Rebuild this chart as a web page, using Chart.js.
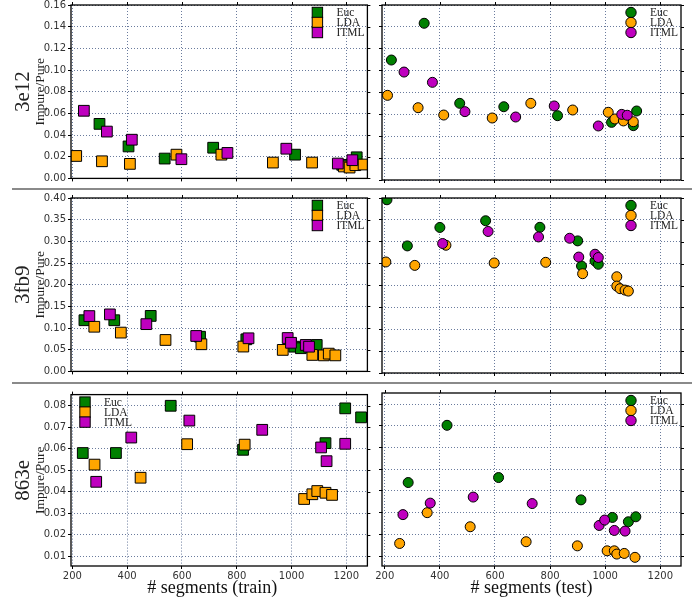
<!DOCTYPE html>
<html>
<head>
<meta charset="utf-8">
<script src="https://cdn.jsdelivr.net/npm/chart.js@4/dist/chart.umd.min.js"></script>
<style>
  html, body { margin: 0; padding: 0; background: #fff; }
  #fig { position: relative; width: 692px; height: 603px; overflow: hidden; background: #fff; }
  #fig canvas { position: absolute; }
  .sep { position: absolute; left: 12px; width: 680px; height: 2px; background: #8a8a8a; }
</style>
</head>
<body>
<div id="fig">
  <div class="sep" style="top:188px"></div>
  <div class="sep" style="top:382px"></div>
</div>
<script>
// ---- series and ticks -------------------------------------------------
const seriesNames  = ['Euc', 'LDA', 'ITML'];
const seriesColors = ['#008000', '#ffa500', '#bf00bf'];
const rowNames     = ['3e12', '3fb9', '863e'];

const xTicks      = [200, 400, 600, 800, 1000, 1200];
const yTicks3e12  = [0, 0.02, 0.04, 0.06, 0.08, 0.10, 0.12, 0.14, 0.16];
const yTicks3fb9  = [0, 0.05, 0.10, 0.15, 0.20, 0.25, 0.30, 0.35, 0.40];
const yTicks863e  = [0.01, 0.02, 0.03, 0.04, 0.05, 0.06, 0.07, 0.08];

// 3e12 – train
const e12TrainEuc  = [[299,0.0503],[405,0.0295],[537,0.0183],[714,0.0283],[1013,0.0219],[1185,0.0125],[1238,0.0195]];
const e12TrainLda  = [[214,0.0207],[308,0.0158],[410,0.0134],[580,0.0219],[744,0.0219],[932,0.0146],[1075,0.0146],[1191,0.0110],[1212,0.0100],[1233,0.0122],[1263,0.0128]];
const e12TrainItml = [[242,0.0624],[326,0.0432],[417,0.0357],[598,0.0177],[766,0.0235],[981,0.0274],[1169,0.0137],[1222,0.0168]];
// 3e12 – test
const e12TestEuc   = [[224,0.1097],[343,0.1433],[472,0.0701],[632,0.0670],[827,0.0588],[1023,0.0527],[1102,0.0497],[1114,0.0631]];
const e12TestLda   = [[210,0.0774],[321,0.0661],[414,0.0594],[590,0.0567],[730,0.0701],[882,0.0640],[1011,0.0619],[1035,0.0558],[1066,0.0540],[1102,0.0533]];
const e12TestItml  = [[270,0.0987],[373,0.0893],[491,0.0625],[675,0.0576],[815,0.0677],[975,0.0494],[1060,0.0600],[1080,0.0592]];

// 3fb9 – train
const fb9TrainEuc  = [[244,0.118],[353,0.118],[486,0.128],[666,0.080],[835,0.074],[998,0.065],[1010,0.057],[1034,0.0535],[1092,0.061]];
const fb9TrainLda  = [[280,0.103],[377,0.0895],[540,0.0725],[671,0.0626],[824,0.0573],[968,0.0496],[1076,0.038],[1118,0.037],[1136,0.041],[1160,0.037]];
const fb9TrainItml = [[262,0.1276],[337,0.1315],[470,0.109],[652,0.0817],[843,0.0764],[986,0.077],[998,0.066],[1052,0.061],[1064,0.057]];
// 3fb9 – test
const fb9TestEuc   = [[208,0.396],[282,0.2905],[400,0.3327],[566,0.348],[763,0.333],[900,0.302],[914,0.2446],[963,0.256],[975,0.2485]];
const fb9TestLda   = [[204,0.2538],[309,0.246],[422,0.292],[597,0.2515],[784,0.253],[918,0.227],[1042,0.220],[1042,0.1987],[1054,0.1927],[1072,0.1895],[1084,0.1872]];
const fb9TestItml  = [[410,0.296],[575,0.3235],[758,0.311],[871,0.308],[904,0.265],[963,0.2715],[975,0.264]];

// 863e – train
const e863TrainEuc  = [[238,0.058],[359,0.058],[559,0.080],[823,0.0595],[1124,0.0626],[1196,0.0788],[1254,0.0746]];
const e863TrainLda  = [[281,0.0526],[449,0.0465],[619,0.0621],[829,0.0619],[1046,0.0366],[1076,0.0388],[1094,0.0403],[1124,0.0395],[1148,0.0385]];
const e863TrainItml = [[287,0.0446],[415,0.0652],[627,0.0731],[893,0.0688],[1108,0.0606],[1128,0.0542],[1196,0.0623]];
// 863e – test
const e863TestEuc   = [[285,0.0439],[426,0.0703],[613,0.0462],[912,0.0359],[1026,0.0278],[1084,0.0258],[1111,0.0281]];
const e863TestLda   = [[254,0.0158],[354,0.0300],[510,0.0235],[713,0.0166],[899,0.0147],[1007,0.0124],[1033,0.0124],[1042,0.0109],[1069,0.0112],[1108,0.0094]];
const e863TestItml  = [[266,0.0291],[365,0.0344],[521,0.0372],[735,0.0342],[978,0.0241],[998,0.0266],[1033,0.0218],[1072,0.0215]];

// ---- decorations: frame, outer ticks, legend, row label, x title --------
const SERIF = '"Liberation Serif", "Times New Roman", serif';
const panelDeco = {
  id: 'panelDeco',
  afterDatasetsDraw(chart, args, o) {
    const ctx = chart.ctx, a = chart.chartArea;
    const xs = chart.scales.x, ys = chart.scales.y;
    ctx.save();
    // frame on all four sides
    ctx.strokeStyle = '#000';
    ctx.lineWidth = 1.3;
    ctx.strokeRect(a.left, a.top, a.right - a.left, a.bottom - a.top);
    // small outward ticks on the top and right edges
    ctx.lineWidth = 1;
    ctx.beginPath();
    xs.ticks.forEach(t => {
      const px = Math.round(xs.getPixelForValue(t.value)) + 0.5;
      ctx.moveTo(px, a.top); ctx.lineTo(px, a.top - 3);
    });
    ys.ticks.forEach(t => {
      const py = Math.round(ys.getPixelForValue(t.value)) + 0.5;
      ctx.moveTo(a.right, py); ctx.lineTo(a.right + 3, py);
    });
    ctx.stroke();

    // legend
    const mx = o.legendLeft ? a.left + 14 : a.right - 50;
    const tx = mx + 19;
    ctx.textBaseline = 'middle';
    ctx.textAlign = 'left';
    seriesNames.forEach((name, i) => {
      const cy = a.top + 7.5 + i * 10;
      ctx.fillStyle = seriesColors[i];
      ctx.strokeStyle = '#000';
      ctx.lineWidth = 1;
      if (o.marker === 'rect') {
        ctx.fillRect(mx - 5.2, cy - 5.2, 10.4, 10.4);
        ctx.strokeRect(mx - 5.2, cy - 5.2, 10.4, 10.4);
      } else {
        ctx.beginPath();
        ctx.arc(mx, cy, 5.2, 0, Math.PI * 2);
        ctx.fill(); ctx.stroke();
      }
    });
    ctx.font = '11.5px ' + SERIF;
    ctx.fillStyle = '#222';
    seriesNames.forEach((name, i) => ctx.fillText(name, tx, a.top + 8 + i * 10));

    // row label and y title
    if (o.rowLabel) {
      const cy = (a.top + a.bottom) / 2;
      ctx.fillStyle = '#222';
      ctx.textAlign = 'center';
      ctx.save();
      ctx.translate(23, cy); ctx.rotate(-Math.PI / 2);
      ctx.font = '21px ' + SERIF;
      ctx.fillText(o.rowLabel, 0, 0);
      ctx.restore();
      ctx.save();
      ctx.translate(40.5, cy); ctx.rotate(-Math.PI / 2);
      ctx.font = '13.5px ' + SERIF;
      ctx.fillText('Impure/Pure', 0, 0);
      ctx.restore();
    }
    // x title
    if (o.xTitle) {
      ctx.fillStyle = '#111';
      ctx.textAlign = 'center';
      ctx.font = '18px ' + SERIF;
      ctx.fillText(o.xTitle, (a.left + a.right) / 2 + (o.xTitleShift || 0), a.bottom + 22);
    }
    ctx.restore();
  }
};

// ---- panel factory -----------------------------------------------------
const fig = document.getElementById('fig');
const GRID = 'rgba(80,100,140,0.85)';

function panel(geom, sets, opt) {
  const cv = document.createElement('canvas');
  cv.width = geom.w; cv.height = geom.h;
  cv.style.left = geom.left + 'px';
  cv.style.top = geom.top + 'px';
  fig.appendChild(cv);

  const datasets = sets.map((pts, i) => ({
    label: seriesNames[i],
    data: pts.map(p => ({ x: p[0], y: p[1] })),
    pointStyle: opt.marker,
    pointRadius: opt.marker === 'rect' ? 7.6 : 5,
    pointHoverRadius: opt.marker === 'rect' ? 7.6 : 5,
    backgroundColor: seriesColors[i],
    borderColor: '#000',
    borderWidth: 1,
    order: 3 - i
  }));

  new Chart(cv, {
    type: 'scatter',
    data: { datasets },
    plugins: [panelDeco],
    options: {
      responsive: false,
      animation: false,
      devicePixelRatio: 1,
      layout: { padding: { top: geom.padTop, right: geom.padRight, bottom: 0, left: 0 } },
      plugins: {
        legend: { display: false },
        tooltip: { enabled: false },
        panelDeco: opt
      },
      scales: {
        x: {
          type: 'linear',
          min: opt.xMin, max: opt.xMax,
          afterBuildTicks: s => { s.ticks = xTicks.map(v => ({ value: v })); },
          afterFit: s => { s.height = geom.xh; },
          ticks: {
            display: !!opt.xTitle,
            autoSkip: false, maxRotation: 0,
            padding: 1,
            color: '#333',
            font: { family: 'DejaVu Sans', size: 10 },
            callback: v => String(v)
          },
          grid: { color: GRID, lineWidth: 1, drawTicks: true, tickLength: 3, tickColor: '#000', tickWidth: 1 },
          border: { display: false, dash: [1, 2] }
        },
        y: {
          type: 'linear',
          min: opt.yMin, max: opt.yMax,
          afterBuildTicks: s => { s.ticks = opt.yTicks.map(v => ({ value: v })); },
          afterFit: s => { s.width = geom.yw; },
          ticks: {
            display: !!opt.rowLabel,
            padding: 2,
            color: '#333',
            font: { family: 'DejaVu Sans', size: 10 },
            callback: v => v.toFixed(2)
          },
          grid: { color: GRID, lineWidth: 1, drawTicks: true, tickLength: 3, tickColor: '#000', tickWidth: 1 },
          border: { display: false, dash: [1, 2] }
        }
      }
    }
  });
}

// column geometry
const LEFT  = { left: 0,   w: 376, yw: 71, padRight: 5 };
const RIGHT = { left: 366, w: 326, yw: 16, padRight: 11 };
// row geometry
const ROW = [
  { top: -4,  h: 191, padTop: 9, xh: 7 },
  { top: 189, h: 191, padTop: 9, xh: 7 },
  { top: 386, h: 217, padTop: 7, xh: 37 }
];
const yRanges = [
  { yMin: 0, yMax: 0.16, yTicks: yTicks3e12 },
  { yMin: 0, yMax: 0.40, yTicks: yTicks3fb9 },
  { yMin: 0.0054, yMax: 0.0852, yTicks: yTicks863e }
];
const trainSets = [
  [e12TrainEuc, e12TrainLda, e12TrainItml],
  [fb9TrainEuc, fb9TrainLda, fb9TrainItml],
  [e863TrainEuc, e863TrainLda, e863TrainItml]
];
const testSets = [
  [e12TestEuc, e12TestLda, e12TestItml],
  [fb9TestEuc, fb9TestLda, fb9TestItml],
  [e863TestEuc, e863TestLda, e863TestItml]
];

for (let r = 0; r < 3; r++) {
  const last = r === 2;
  panel(Object.assign({}, LEFT, ROW[r]), trainSets[r], Object.assign({
    marker: 'rect', xMin: 195, xMax: 1277,
    rowLabel: rowNames[r],
    legendLeft: last,
    xTitle: last ? '# segments (train)' : null,
    xTitleShift: -7
  }, yRanges[r]));
  panel(Object.assign({}, RIGHT, ROW[r]), testSets[r], Object.assign({
    marker: 'circle', xMin: 190, xMax: 1275,
    rowLabel: null,
    legendLeft: false,
    xTitle: last ? '# segments (test)' : null,
    xTitleShift: 0
  }, yRanges[r]));
}
</script>
</body>
</html>
